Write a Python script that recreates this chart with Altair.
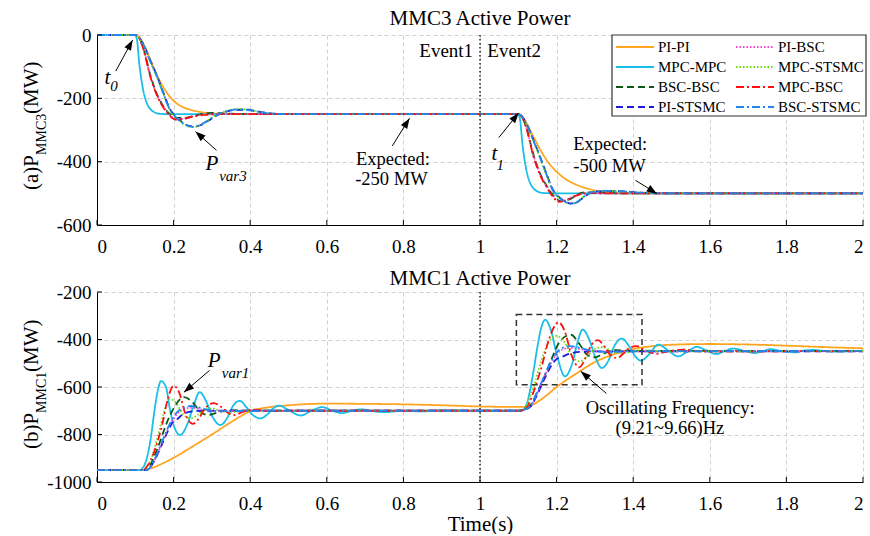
import math
import altair as alt
import pandas as pd

FONT = "Liberation Serif"
W, H = 766, 190

# ---------------- series styling ----------------
SERIES_DRAW = ["PI-PI", "MPC-MPC", "BSC-BSC", "PI-STSMC", "PI-BSC", "MPC-STSMC", "MPC-BSC", "BSC-STSMC"]
COLORS = {"PI-PI": "#FFA51F", "PI-BSC": "#FF3FD2", "MPC-MPC": "#19BFE8", "MPC-STSMC": "#66DD00",
          "BSC-BSC": "#0B5A14", "MPC-BSC": "#FF1010", "PI-STSMC": "#1B1BD8", "BSC-STSMC": "#1E88F0"}
DASHES = {"PI-PI": [1, 0], "MPC-MPC": [1, 0], "BSC-BSC": [7, 4], "PI-STSMC": [7, 4],
          "PI-BSC": [1.5, 2], "MPC-STSMC": [1.5, 2], "MPC-BSC": [8, 3, 2, 3], "BSC-STSMC": [8, 3, 2, 3]}

# ---------------- (a) MMC3 active power ----------------
A_PIPI_T = [0, 0.1, 0.11, 0.12, 0.14, 0.16, 0.18, 0.2, 0.22, 0.25, 0.28, 0.32, 0.36,
            1.1, 1.11, 1.12, 1.14, 1.16, 1.18, 1.2, 1.22, 1.25, 1.28, 1.3, 1.33, 1.38, 2.0]
A_PIPI_P = [0, 0, -6, -25, -80, -135, -178, -208, -225, -238, -245, -249, -250,
            -250, -256, -275, -322, -368, -405, -432, -452, -472, -485, -491, -497, -500, -500]

A_MPC_T = [0, 0.1, 0.105, 0.11, 0.12, 0.13, 0.14, 0.15, 0.165, 0.2,
           1.1, 1.105, 1.11, 1.12, 1.13, 1.14, 1.15, 1.165, 1.2, 2.0]
A_MPC_P = [0, 0, -20, -85, -170, -215, -235, -244, -249, -250,
           -250, -270, -335, -420, -465, -485, -494, -499, -500, -500]

A_MPCBSC_T = [0, 0.1, 0.11, 0.12, 0.14, 0.16, 0.175, 0.19, 0.205, 0.22, 0.25, 0.28, 0.32,
              1.1, 1.11, 1.12, 1.14, 1.16, 1.175, 1.19, 1.205, 1.22, 1.25, 1.28, 1.32, 2.0]
A_MPCBSC_P = [0, 0, -10, -40, -135, -200, -232, -255, -267, -266, -258, -252, -250,
              -250, -260, -290, -385, -450, -482, -510, -527, -524, -508, -499, -500, -500]

A_BSCBSC_T = [0, 0.1, 0.11, 0.12, 0.14, 0.16, 0.175, 0.19, 0.205, 0.23, 0.26, 0.3, 0.34, 0.4,
              1.1, 1.11, 1.12, 1.14, 1.16, 1.175, 1.19, 1.21, 1.235, 1.27, 1.31, 1.36, 2.0]
A_BSCBSC_P = [0, 0, -9, -38, -130, -196, -228, -250, -262, -262, -253, -246, -248, -250,
              -250, -259, -288, -380, -446, -478, -505, -524, -518, -497, -497, -500, -500]

A_PIBSC_T = [0, 0.1, 0.11, 0.12, 0.14, 0.16, 0.175, 0.19, 0.205, 0.22, 0.25, 0.29, 0.33,
             1.1, 1.11, 1.12, 1.14, 1.16, 1.175, 1.19, 1.205, 1.22, 1.25, 1.29, 1.33, 2.0]
A_PIBSC_P = [0, 0, -9, -38, -132, -198, -230, -253, -265, -265, -257, -251, -250,
             -250, -259, -289, -382, -448, -480, -508, -525, -523, -506, -499, -500, -500]

A_BSCST_T = [0, 0.1, 0.11, 0.12, 0.14, 0.158, 0.175, 0.19, 0.2, 0.22, 0.24, 0.25, 0.27, 0.29,
             0.31, 0.34, 0.37, 0.39, 0.42, 0.46, 0.5,
             1.1, 1.11, 1.12, 1.14, 1.158, 1.175, 1.19, 1.2, 1.22, 1.235, 1.25, 1.27, 1.29,
             1.32, 1.36, 1.42, 1.5, 2.0]
A_BSCST_P = [0, 0, -8, -28, -85, -135, -190, -235, -252, -275, -288, -290, -284, -270,
             -255, -240, -235, -236, -242, -249, -250,
             -250, -258, -278, -335, -390, -445, -490, -506, -525, -533, -530, -512, -497,
             -492, -493, -498, -500, -500]

A_PIST_T = [0, 0.1, 0.11, 0.12, 0.14, 0.158, 0.175, 0.19, 0.2, 0.22, 0.24, 0.255, 0.27, 0.29,
            0.31, 0.34, 0.37, 0.395, 0.42, 0.46, 0.5,
            1.1, 1.11, 1.12, 1.14, 1.158, 1.175, 1.19, 1.2, 1.22, 1.235, 1.25, 1.27, 1.29,
            1.32, 1.36, 1.42, 1.5, 2.0]
A_PIST_P = [0, 0, -8, -27, -83, -133, -188, -233, -250, -273, -287, -289, -285, -271,
            -256, -241, -236, -236, -242, -248, -250,
            -250, -258, -277, -333, -388, -443, -488, -504, -524, -532, -530, -513, -498,
            -493, -493, -498, -500, -500]

A_MPCST_T = [0, 0.1, 0.11, 0.12, 0.14, 0.158, 0.175, 0.19, 0.2, 0.22, 0.24, 0.25, 0.27, 0.29,
             0.31, 0.34, 0.37, 0.39, 0.42, 0.46, 0.5,
             1.1, 1.11, 1.12, 1.14, 1.158, 1.175, 1.19, 1.2, 1.22, 1.235, 1.25, 1.27, 1.29,
             1.32, 1.36, 1.42, 1.5, 2.0]
A_MPCST_P = [0, 0, -9, -30, -88, -138, -192, -236, -253, -276, -289, -291, -284, -269,
             -254, -239, -234, -235, -242, -249, -250,
             -250, -259, -280, -337, -392, -447, -491, -507, -526, -533, -529, -511, -496,
             -492, -494, -498, -500, -500]

# ---------------- (b) MMC1 active power ----------------
B_PIPI_T = [0, 0.12, 0.14, 0.16, 0.18, 0.2, 0.25, 0.3, 0.35, 0.4, 0.45, 0.5, 0.6, 0.7, 0.8, 0.9, 1.0, 1.1,
            1.12, 1.14, 1.17, 1.2, 1.25, 1.3, 1.35, 1.4, 1.45, 1.5, 1.6, 1.7, 1.8, 1.9, 2.0]
B_PIPI_P = [-950, -950, -943, -930, -915, -898, -850, -800, -748, -702, -685, -677, -670, -671, -673, -677, -682, -684,
            -683, -672, -640, -600, -545, -495, -462, -440, -428, -422, -419, -421, -426, -432, -437]

B_MPC_T = [0, 0.11, 0.12, 0.13, 0.14, 0.15, 0.16, 0.167, 0.18, 0.19, 0.2, 0.217, 0.235, 0.25, 0.268,
           0.285, 0.3, 0.322, 0.34, 0.355, 0.373, 0.39, 0.405, 0.427, 0.445, 0.46, 0.475, 0.5, 0.532,
           0.56, 0.588, 0.615, 0.64, 0.665, 0.69, 0.72, 0.75, 0.8, 0.85, 0.9, 1.0, 1.1,
           1.11, 1.12, 1.13, 1.14, 1.15, 1.16, 1.17, 1.185, 1.2, 1.222, 1.24, 1.255, 1.268, 1.285,
           1.3, 1.318, 1.335, 1.35, 1.37, 1.39, 1.405, 1.42, 1.44, 1.466, 1.49, 1.518, 1.54, 1.566,
           1.59, 1.617, 1.64, 1.66, 1.69, 1.717, 1.74, 1.76, 1.79, 1.82, 1.85, 1.87, 1.9, 1.93, 2.0]
B_MPC_P = [-950, -950, -940, -900, -820, -700, -605, -575, -600, -690, -760, -802, -760, -690, -622,
           -660, -720, -760, -730, -680, -658, -685, -715, -732, -715, -690, -678, -697, -720,
           -700, -685, -700, -710, -700, -694, -702, -706, -700, -703, -698, -700, -700,
           -698, -680, -620, -530, -430, -350, -317, -360, -460, -555, -505, -410, -358, -400,
           -470, -520, -490, -430, -396, -430, -470, -489, -465, -421, -445, -471, -452, -431,
           -445, -461, -448, -438, -448, -457, -448, -441, -450, -454, -446, -444, -449, -451, -447]

B_MPCBSC_T = [0, 0.12, 0.13, 0.15, 0.17, 0.185, 0.2, 0.215, 0.23, 0.25, 0.265, 0.28, 0.305, 0.325,
              0.345, 0.36, 0.38, 0.41, 0.45, 0.5, 1.1,
              1.12, 1.14, 1.16, 1.18, 1.205, 1.22, 1.24, 1.259, 1.275, 1.29, 1.308, 1.325, 1.34,
              1.358, 1.375, 1.39, 1.41, 1.43, 1.46, 1.49, 1.53, 1.58, 2.0]
B_MPCBSC_P = [-950, -950, -935, -870, -760, -650, -595, -625, -710, -755, -735, -695, -668, -685,
              -712, -718, -705, -695, -702, -700, -700,
              -690, -620, -520, -400, -328, -360, -470, -517, -480, -425, -403, -430, -465,
              -478, -458, -436, -428, -445, -460, -450, -443, -450, -448]

B_BSCBSC_T = [0, 0.125, 0.14, 0.16, 0.18, 0.2, 0.227, 0.25, 0.27, 0.29, 0.31, 0.34, 0.4, 1.1,
              1.125, 1.15, 1.17, 1.19, 1.21, 1.237, 1.26, 1.28, 1.3, 1.32, 1.35, 1.4, 2.0]
B_BSCBSC_P = [-950, -950, -925, -850, -760, -690, -643, -665, -705, -718, -710, -698, -700, -700,
              -690, -620, -550, -470, -405, -380, -420, -465, -475, -462, -445, -448, -448]

B_MPCST_T = [0, 0.12, 0.14, 0.16, 0.18, 0.19, 0.205, 0.225, 0.245, 0.265, 0.285, 0.3, 0.32, 0.35, 0.4,
             1.1, 1.12, 1.14, 1.16, 1.18, 1.2, 1.22, 1.24, 1.26, 1.28, 1.3, 1.32, 1.34, 1.36, 1.38,
             1.42, 1.5, 2.0]
B_MPCST_P = [-950, -950, -910, -800, -680, -650, -665, -715, -732, -715, -693, -690, -700, -705, -700,
             -700, -680, -600, -490, -410, -385, -410, -470, -492, -470, -440, -432, -445, -458, -455,
             -445, -450, -448]

B_PIST_T = [0, 0.13, 0.15, 0.17, 0.19, 0.2, 0.21, 0.22, 0.24, 0.27, 1.1,
            1.13, 1.15, 1.17, 1.19, 1.2, 1.21, 1.23, 1.26, 1.3, 2.0]
B_PIST_P = [-950, -950, -910, -840, -770, -742, -735, -720, -705, -700, -700,
            -685, -630, -560, -500, -482, -476, -462, -452, -450, -450]

B_BSCST_T = [0, 0.13, 0.15, 0.17, 0.19, 0.21, 0.23, 0.245, 0.27, 0.3, 0.35, 0.4, 1.1,
             1.13, 1.15, 1.17, 1.19, 1.21, 1.235, 1.26, 1.29, 1.33, 1.4, 2.0]
B_BSCST_P = [-950, -950, -905, -830, -755, -705, -685, -680, -688, -700, -702, -700, -700,
             -683, -620, -545, -480, -440, -428, -435, -447, -452, -450, -448]

B_PIBSC_T = [0, 0.13, 0.15, 0.17, 0.19, 0.21, 0.23, 0.25, 0.28, 0.32, 0.4, 1.1,
             1.13, 1.15, 1.17, 1.19, 1.21, 1.235, 1.26, 1.3, 2.0]
B_PIBSC_P = [-950, -950, -910, -835, -760, -712, -690, -688, -697, -702, -700, -700,
             -685, -625, -550, -485, -447, -435, -440, -450, -450]

PANEL_A = {"PI-PI": (A_PIPI_T, A_PIPI_P), "MPC-MPC": (A_MPC_T, A_MPC_P),
           "BSC-BSC": (A_BSCBSC_T, A_BSCBSC_P), "PI-STSMC": (A_PIST_T, A_PIST_P),
           "PI-BSC": (A_PIBSC_T, A_PIBSC_P), "MPC-STSMC": (A_MPCST_T, A_MPCST_P),
           "MPC-BSC": (A_MPCBSC_T, A_MPCBSC_P), "BSC-STSMC": (A_BSCST_T, A_BSCST_P)}
PANEL_B = {"PI-PI": (B_PIPI_T, B_PIPI_P), "MPC-MPC": (B_MPC_T, B_MPC_P),
           "BSC-BSC": (B_BSCBSC_T, B_BSCBSC_P), "PI-STSMC": (B_PIST_T, B_PIST_P),
           "PI-BSC": (B_PIBSC_T, B_PIBSC_P), "MPC-STSMC": (B_MPCST_T, B_MPCST_P),
           "MPC-BSC": (B_MPCBSC_T, B_MPCBSC_P), "BSC-STSMC": (B_BSCST_T, B_BSCST_P)}

# ticks
XTICKS = [0, 0.2, 0.4, 0.6, 0.8, 1.0, 1.2, 1.4, 1.6, 1.8, 2.0]
A_YTICKS = [-600, -400, -200, 0]
B_YTICKS = [-1000, -800, -600, -400, -200]
EVENT_T = [1.0]

# annotations (data coordinates)
A_LABELS = {"x": [0.0197, 0.0345, 0.283, 0.319, 0.676, 0.674, 1.030, 1.043, 1.2435, 1.2435],
            "y": [-135, -162, -408, -446, -393, -456, -377, -409, -345, -414],
            "label": ["t", "0", "P", "var3", "Expected:", "-250 MW", "t", "1", "Expected:", "-500 MW"],
            "kind": ["im", "is", "im", "is", "n", "n", "im", "is", "n", "n"]}
A_ARROWS = {"x0": [0.049, 0.312, 0.771, 1.049, 1.406], "y0": [-114, -364, -350, -324, -459],
            "x1": [0.093, 0.257, 0.816, 1.101, 1.462], "y1": [-16, -305, -263, -246, -501]}
A_EVENTS = {"x": [0.982, 1.019], "y": [-50, -50], "label": ["Event1", "Event2"], "al": ["right", "left"]}

B_LABELS = {"x": [0.289, 0.326, 1.276, 1.354], "y": [-492, -541, -688, -773],
            "label": ["P", "var1", "Oscillating Frequency:", "(9.21~9.66)Hz"],
            "kind": ["im", "is", "n", "n"]}
B_ARROWS = {"x0": [0.294, 1.33], "y0": [-530, -627], "x1": [0.227, 1.263], "y1": [-622, -534]}
B_BOX = {"x": [1.095], "x2": [1.423], "y": [-295], "y2": [-590]}

XS = alt.Scale(domain=[0, 2], nice=False, zero=False)
YS_A = alt.Scale(domain=[-600, 0], nice=False, zero=False)
YS_B = alt.Scale(domain=[-1000, -200], nice=False, zero=False)
CS = alt.Scale(domain=SERIES_DRAW, range=[COLORS[k] for k in SERIES_DRAW])
DS = alt.Scale(domain=SERIES_DRAW, range=[DASHES[k] for k in SERIES_DRAW])
SX = W / 2.0
SY_A = H / 600.0
SY_B = H / 800.0

HEAD = "M0,0L0.36,1L-0.36,1Z"


def panel_df(d):
    rows = []
    for s, (ts, ps) in d.items():
        for t, p in zip(ts, ps):
            rows.append({"t": t, "p": p, "s": s})
    return pd.DataFrame(rows)


def xaxis(title):
    return alt.Axis(values=XTICKS, format="~g", grid=True, gridDash=[4, 3], gridColor="#d0d0d0",
                    domainColor="black", domainWidth=1, ticks=False, labelFont=FONT, labelFontSize=19,
                    labelColor="black", labelPadding=12, title=title, titleFont=FONT, titleFontSize=21,
                    titleFontWeight="normal", titleColor="black", titlePadding=0)


def yaxis(vals):
    return alt.Axis(values=vals, labelExpr="'' + datum.value", grid=True, gridDash=[4, 3],
                    gridColor="#d0d0d0", domainColor="black", domainWidth=1, ticks=False,
                    labelFont=FONT, labelFontSize=19, labelColor="black", labelPadding=6, title=None)


class Panel:
    def __init__(self, ys, sy, xa, ya):
        self.ys, self.sy, self.xa, self.ya = ys, sy, xa, ya

    def X(self, f):
        return alt.X(f, scale=XS, axis=self.xa)

    def Y(self, f):
        return alt.Y(f, scale=self.ys, axis=self.ya)

    def lines(self, df):
        out = []
        for s in SERIES_DRAW:
            out.append(alt.Chart(df).transform_filter(alt.datum.s == s).mark_line(
                interpolate="monotone", strokeWidth=1.8).encode(
                x=self.X("t:Q"), y=self.Y("p:Q"),
                color=alt.Color("s:N", scale=CS, legend=None),
                strokeDash=alt.StrokeDash("s:N", scale=DS, legend=None)))
        return out

    def arrows(self, d):
        df = pd.DataFrame(d)
        df["ang"] = [math.degrees(math.atan2((x1 - x0) * SX, (y1 - y0) * self.sy)) % 360
                     for x0, y0, x1, y1 in zip(df.x0, df.y0, df.x1, df.y1)]
        rule = alt.Chart(df).mark_rule(color="black", strokeWidth=1).encode(
            x=self.X("x0:Q"), y=self.Y("y0:Q"), x2="x1:Q", y2="y1:Q")
        head = alt.Chart(df).mark_point(shape=HEAD, filled=True, color="black", opacity=1, size=420,
                                        strokeWidth=0).encode(
            x=self.X("x1:Q"), y=self.Y("y1:Q"), angle=alt.Angle("ang:Q", scale=None))
        return [rule, head]

    def labels(self, d):
        df = pd.DataFrame(d)
        out = []
        for kind, size, style in [("im", 21, "italic"), ("is", 15, "italic"), ("n", 18.5, "normal")]:
            out.append(alt.Chart(df).transform_filter(alt.datum.kind == kind).mark_text(
                font=FONT, fontSize=size, fontStyle=style, align="left", baseline="middle",
                color="black").encode(x=self.X("x:Q"), y=self.Y("y:Q"), text="label:N"))
        return out

    def event_rule(self):
        return alt.Chart(pd.DataFrame({"t": EVENT_T})).mark_rule(
            color="black", strokeDash=[1.5, 2.5], strokeWidth=1.3).encode(x=self.X("t:Q"))

    def inward_ticks(self, yvals):
        xt = alt.Chart(pd.DataFrame({"t": XTICKS})).mark_rule(color="black", strokeWidth=1).encode(
            x=self.X("t:Q"), y=alt.value(H), y2=alt.value(H - 5))
        yt = alt.Chart(pd.DataFrame({"v": yvals})).mark_rule(color="black", strokeWidth=1).encode(
            y=self.Y("v:Q"), x=alt.value(0), x2=alt.value(5))
        return [xt, yt]


def text_at(txt, x, y, size, angle=0, align="center", style="normal"):
    kw = dict(font=FONT, fontSize=size, fontStyle=style, align=align, baseline="middle",
              color="black", text=txt)
    if angle:
        kw["angle"] = angle
    return alt.Chart(pd.DataFrame({"a": [0]})).mark_text(**kw).encode(x=alt.value(x), y=alt.value(y))


# ---------------- manual legend (top panel, pixel space) ----------------
LEG_LEFT, LEG_RIGHT, LEG_TOP, LEG_BOTTOM = 515, 769, 0, 81
leg = pd.DataFrame({"s": SERIES_DRAW})
leg["col"] = [i // 4 for i in range(len(SERIES_DRAW))]
leg["row"] = [i % 4 for i in range(len(SERIES_DRAW))]
leg["sx0"] = LEG_LEFT + 4 + leg["col"] * 120
leg["sx1"] = leg["sx0"] + 38
leg["lx"] = leg["sx1"] + 4
leg["ly"] = LEG_TOP + 12 + leg["row"] * 20

legend_box = alt.Chart(pd.DataFrame({"a": [0]})).mark_rect(
    fill="white", stroke="#333333", strokeWidth=1.2).encode(
    x=alt.value(LEG_LEFT), x2=alt.value(LEG_RIGHT), y=alt.value(LEG_TOP), y2=alt.value(LEG_BOTTOM))
legend_syms = alt.Chart(leg).mark_rule(strokeWidth=2).encode(
    x=alt.X("sx0:Q", scale=None), x2="sx1:Q", y=alt.Y("ly:Q", scale=None),
    color=alt.Color("s:N", scale=CS, legend=None), strokeDash=alt.StrokeDash("s:N", scale=DS, legend=None))
legend_text = alt.Chart(leg).mark_text(font=FONT, fontSize=15, align="left", baseline="middle",
                                       color="black").encode(
    x=alt.X("lx:Q", scale=None), y=alt.Y("ly:Q", scale=None), text="s:N")

# ---------------- panel (a) ----------------
PA = Panel(YS_A, SY_A, xaxis(None), yaxis(A_YTICKS))
df_a = panel_df(PANEL_A)
ev_a = pd.DataFrame(A_EVENTS)
events_a = [alt.Chart(ev_a).transform_filter(alt.datum.al == al).mark_text(
    font=FONT, fontSize=19, align=al, baseline="middle", color="black").encode(
    x=PA.X("x:Q"), y=PA.Y("y:Q"), text="label:N") for al in ["right", "left"]]

anchor = alt.Chart(pd.DataFrame({"a": [0]})).mark_point(opacity=0, size=1, strokeWidth=0).encode(
    x=alt.value(-96), y=alt.value(-34))

top = alt.layer(
    *PA.lines(df_a),
    PA.event_rule(),
    *PA.inward_ticks(A_YTICKS),
    *PA.arrows(A_ARROWS),
    *PA.labels(A_LABELS),
    *events_a,
    legend_box, legend_syms, legend_text,
    text_at("MMC3 Active Power", W / 2, -16, 21),
    text_at("(a)P", -65, 155, 21, angle=270, align="left"),
    text_at("MMC3", -55, 120, 14, angle=270, align="left"),
    text_at("(MW)", -65, 79, 21, angle=270, align="left"),
    anchor,
).properties(width=W, height=H)

# ---------------- panel (b) ----------------
PB = Panel(YS_B, SY_B, xaxis("Time(s)"), yaxis(B_YTICKS))
df_b = panel_df(PANEL_B)
box = alt.Chart(pd.DataFrame(B_BOX)).mark_rect(fillOpacity=0, stroke="#333333", strokeDash=[6, 4],
                                                strokeWidth=1.5).encode(
    x=PB.X("x:Q"), x2="x2:Q", y=PB.Y("y:Q"), y2="y2:Q")

bottom = alt.layer(
    *PB.lines(df_b),
    PB.event_rule(),
    *PB.inward_ticks(B_YTICKS),
    box,
    *PB.arrows(B_ARROWS),
    *PB.labels(B_LABELS),
    text_at("MMC1 Active Power", W / 2, -13, 21),
    text_at("(b)P", -65, 157, 21, angle=270, align="left"),
    text_at("MMC1", -55, 121, 14, angle=270, align="left"),
    text_at("(MW)", -65, 80, 21, angle=270, align="left"),
).properties(width=W, height=H)

chart = alt.vconcat(top, bottom, spacing=67, bounds="flush").configure_view(stroke=None).properties(
    padding=0, background="white")

chart.save("out.html", embed_options={"renderer": "svg", "actions": False})
